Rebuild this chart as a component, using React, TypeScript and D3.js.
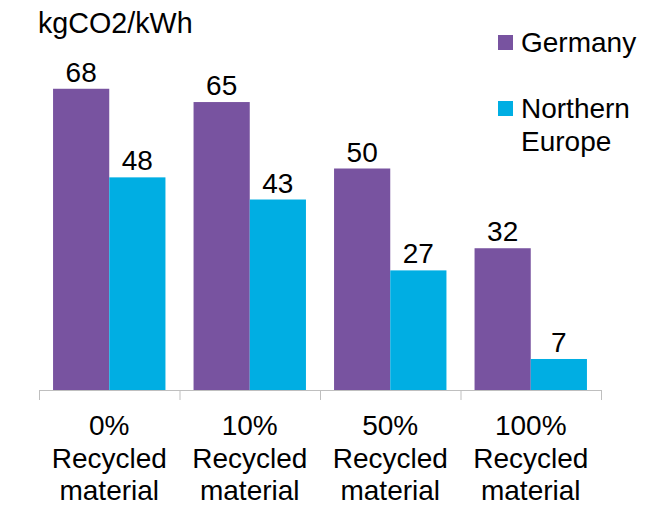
import React from "react";
import * as d3 from "d3";

const categories = ["0%", "10%", "50%", "100%"];
const categorySub = ["Recycled", "material"];
const seriesNames = ["Germany", "Northern Europe"];
const germany = [68, 65, 50, 32];
const northernEurope = [48, 43, 27, 7];
const unitLabel = "kgCO2/kWh";

const W = 659;
const H = 505;
const FONT = "'Liberation Sans', Arial, sans-serif";
const COLORS = ["#7853A0", "#00AEE3"];
const FS = 28;

export default function App() {
  const step = 140.5;
  const x0 = d3.scaleBand<string>().domain(categories).range([39, 39 + step * categories.length]).padding(0);
  const inner = d3.scaleBand<string>().domain(seriesNames).range([0, step]).paddingInner(0).paddingOuter(0.25);
  const y = d3.scaleLinear().domain([0, 80]).range([390, 390 - 80 * 4.43]);
  const series = [germany, northernEurope];
  const axisEnd = 39 + step * categories.length;

  return (
    <svg width={W} height={H} style={{ position: "absolute", left: 0, top: 0, background: "#fff" }} fontFamily={FONT}>
      <text x={38} y={33} fontSize={28.7} fill="#000">{unitLabel}</text>
      {categories.map((c, ci) =>
        series.map((vals, si) => {
          const bx = (x0(c) as number) + (inner(seriesNames[si]) as number);
          const bw = inner.bandwidth();
          const v = vals[ci];
          return (
            <g key={c + si}>
              <rect x={bx} y={y(v)} width={bw} height={y(0) - y(v)} fill={COLORS[si]} />
              <text x={bx + bw / 2} y={y(v) - 7} textAnchor="middle" fontSize={FS} fill="#000">{v}</text>
            </g>
          );
        })
      )}
      <line x1={39} x2={axisEnd} y1={390.5} y2={390.5} stroke="#BFBFBF" strokeWidth={1} />
      {d3.range(categories.length + 1).map((i) => (
        <line key={i} x1={39.5 + i * step} x2={39.5 + i * step} y1={390} y2={400} stroke="#BFBFBF" strokeWidth={1} />
      ))}
      {categories.map((c) => {
        const cx = (x0(c) as number) + step / 2;
        return (
          <text key={c} x={cx} textAnchor="middle" fontSize={FS} fill="#000">
            <tspan x={cx} y={435}>{c}</tspan>
            <tspan x={cx} y={468}>{categorySub[0]}</tspan>
            <tspan x={cx} y={500}>{categorySub[1]}</tspan>
          </text>
        );
      })}
      <rect x={498} y={35} width={15} height={15} fill={COLORS[0]} />
      <text x={521} y={52} fontSize={FS} fill="#000">Germany</text>
      <rect x={498} y={101} width={15} height={15} fill={COLORS[1]} />
      <text fontSize={FS} fill="#000">
        <tspan x={521} y={118}>Northern</tspan>
        <tspan x={521} y={151}>Europe</tspan>
      </text>
    </svg>
  );
}
